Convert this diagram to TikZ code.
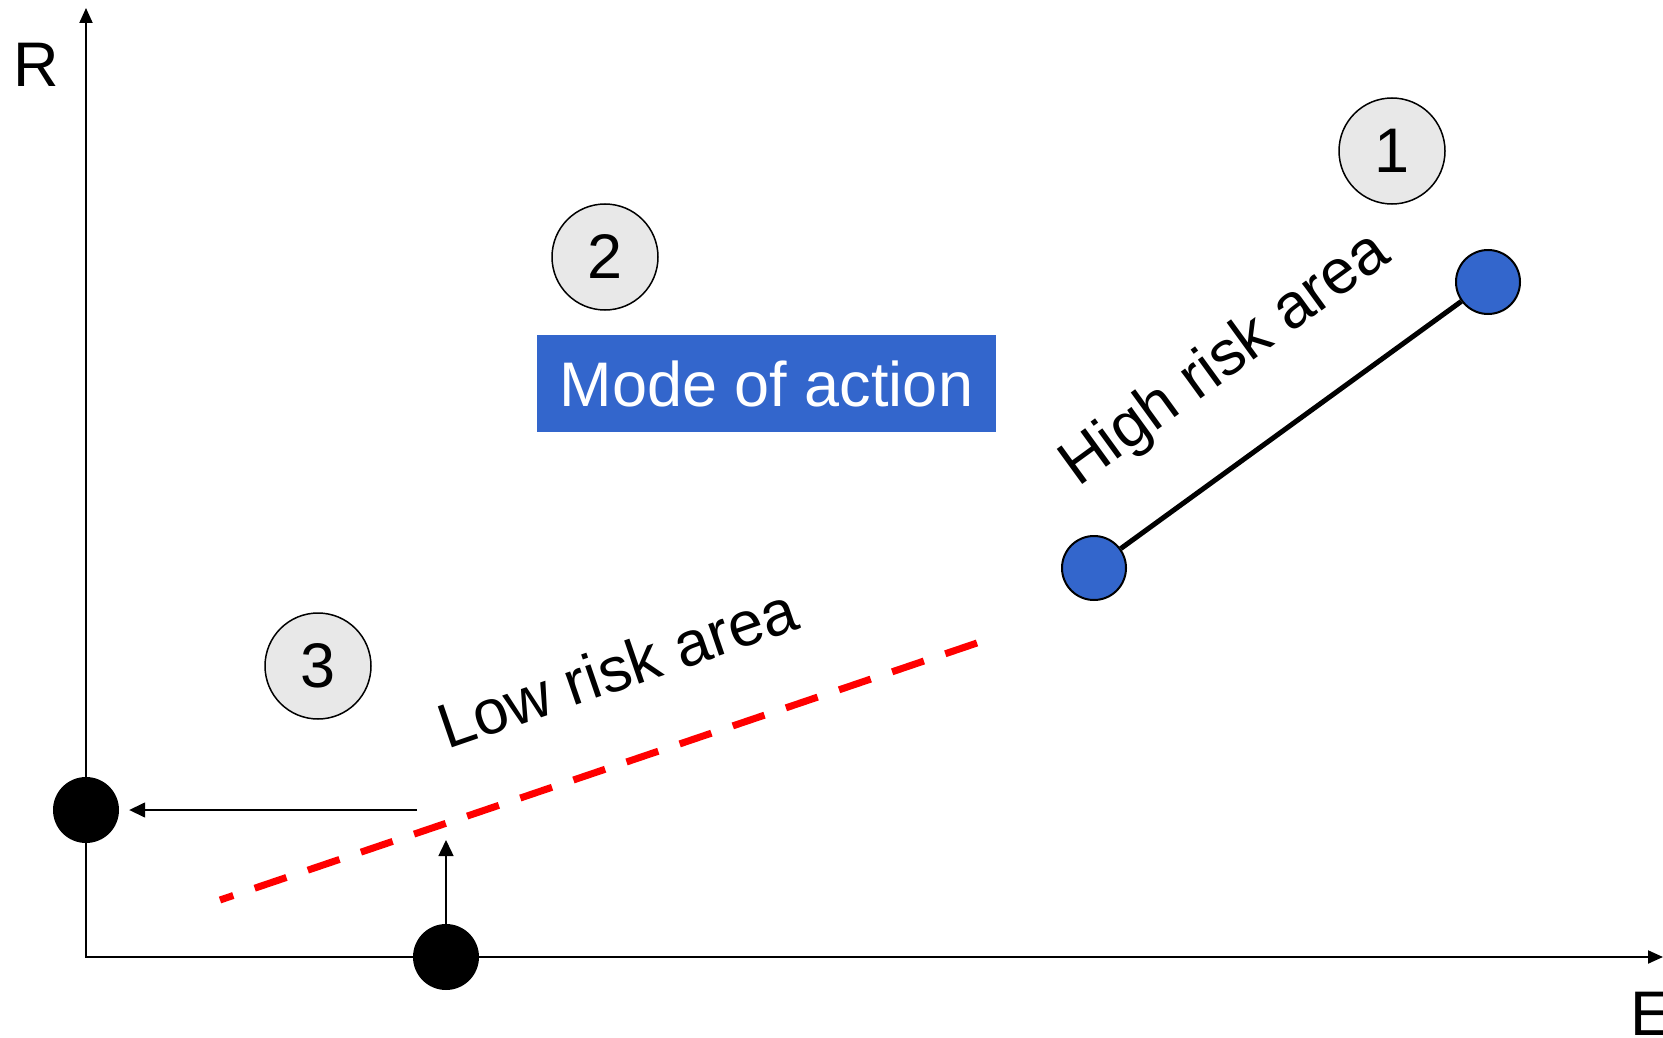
\documentclass[tikz,border=0pt]{standalone}
\usepackage{fontspec}
\setmainfont{Liberation Sans}
\usetikzlibrary{arrows.meta}
\definecolor{markerblue}{HTML}{3366CC}
\definecolor{badgegray}{HTML}{E8E8E8}
\definecolor{limitred}{HTML}{FF0000}
\begin{document}
\begin{tikzpicture}[x=1pt,y=-1pt,
  big/.style={font=\fontsize{63}{75}\selectfont},
  axisline/.style={line width=2pt},
  badge/.style={circle,draw=black,line width=1.5pt,fill=badgegray,
    minimum size=106pt,inner sep=0pt,big},
  bluedot/.style={circle,draw=black,line width=2pt,fill=markerblue,
    minimum size=64pt,inner sep=0pt},
  blackdot/.style={circle,fill=black,minimum size=66pt,inner sep=0pt},
  moveline/.style={line width=1.5pt,-{Triangle[length=16pt,width=15pt]}},
  risklabel/.style={big,inner sep=0pt,anchor=base west},
  modebox/.style={fill=markerblue,text=white,big,minimum width=459pt,
    minimum height=97pt,inner sep=0pt}]
\useasboundingbox (0,0) rectangle (1663,1038);
\fill[white] (0,0) rectangle (1663,1038);

% axes
\coordinate (O) at (86,957);
\coordinate (ytop) at (86,8);
\coordinate (xend) at (1663,957);
\draw[axisline,{Triangle[length=15pt,width=13pt]}-{Triangle[length=15pt,width=13pt]}]
  (ytop) -- (O) -- (xend);
\node[big,anchor=base,inner sep=0pt] (Rlab) at (36,87) {R};
\node[big,anchor=base,inner sep=0pt] (Elab) at (1651,1035) {E};

% numbered badges
\node[badge] (b1) at (1392,151) {1};
\node[badge] (b2) at (605,257) {2};
\node[badge] (b3) at (318,666) {3};

% mode of action
\node[modebox] (mode) at (766.5,383.5) {Mode of action};

% high risk segment
\node[bluedot] (hlow) at (1094,568) {};
\node[bluedot] (hhigh) at (1488,282) {};
\draw[line width=5pt] (hlow) -- (hhigh);
\node[risklabel,rotate=36] (hlab) at (1078,488) {High risk area};

% low risk limit
\coordinate (rA) at (977,643);
\coordinate (rB) at (220,900);
\draw[limitred,line width=7pt,dash pattern=on 33.5pt off 22.6pt] (rA) -- (rB);
\node[risklabel,rotate=19] (llab) at (447,750) {Low risk area};

% points on the axes and the moves towards them
\node[blackdot] (dotL) at (86,810) {};
\node[blackdot] (dotB) at (446,957) {};
\coordinate (hstart) at (417,810);
\coordinate (vend) at (446,840);
\draw[moveline,shorten >=10pt] (hstart) -- (dotL);
\draw[moveline] (dotB) -- (vend);
\end{tikzpicture}
\end{document}
